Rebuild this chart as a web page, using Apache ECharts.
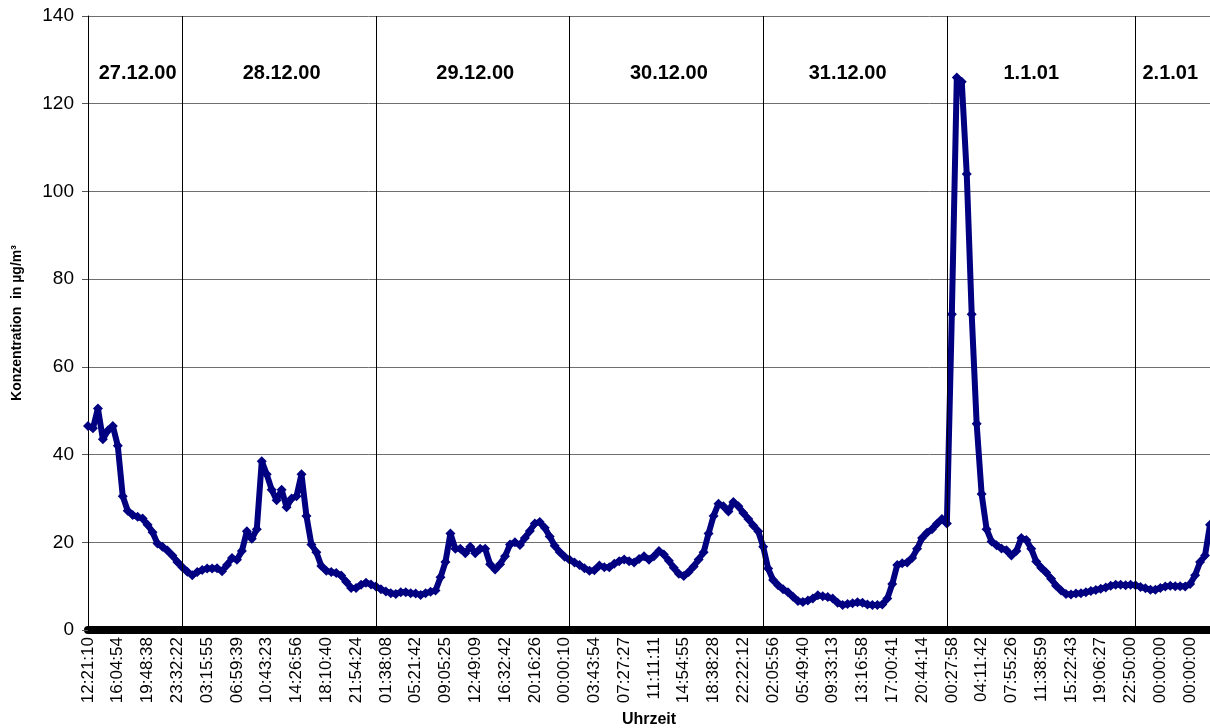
<!DOCTYPE html>
<html>
<head>
<meta charset="utf-8">
<script src="https://cdn.jsdelivr.net/npm/echarts@6/dist/echarts.min.js"></script>
<style>
  html, body { margin: 0; padding: 0; background: #fff; }
  #chart { width: 1210px; height: 728px; }
</style>
</head>
<body>
<div id="chart"></div>
<script>
// Uhrzeit labels, one every 6 readings
const uhrzeitLabels = [
  '12:21:10', '16:04:54', '19:48:38', '23:32:22', '03:15:55', '06:59:39', '10:43:23',
  '14:26:56', '18:10:40', '21:54:24', '01:38:08', '05:21:42', '09:05:25', '12:49:09',
  '16:32:42', '20:16:26', '00:00:10', '03:43:54', '07:27:27', '11:11:11', '14:54:55',
  '18:38:28', '22:22:12', '02:05:56', '05:49:40', '09:33:13', '13:16:58', '17:00:41',
  '20:44:14', '00:27:58', '04:11:42', '07:55:26', '11:38:59', '15:22:43', '19:06:27',
  '22:50:00', '00:00:00', '00:00:00'
];
const readingsPerLabel = 6;

// Konzentration in µg/m³, 27.12.00 12:21 to 2.1.01
const konzentration = [
  46.5, 46, 50.5, 43.5, 45.5, 46.5, 42, 30.5, 27.2, 26.2, 25.8, 25.4, 24, 22.3, 19.7, 19, 18.1, 17, 15.5, 14.3,
  13.3, 12.5, 13.2, 13.7, 14, 14, 14.1, 13.4, 14.8, 16.4, 16, 18, 22.5, 20.8, 23, 38.5, 35.5, 32, 29.6, 32,
  28, 30, 30.5, 35.5, 26, 19.5, 17.7, 14.6, 13.5, 13.2, 13, 12.4, 11, 9.6, 9.6, 10.3, 10.8, 10.4, 9.9, 9.3,
  8.8, 8.4, 8.2, 8.6, 8.6, 8.4, 8.3, 8, 8.4, 8.7, 9, 12, 15.5, 22, 18.5, 18.5, 17.5, 19, 17.5, 18.5,
  18.5, 15, 13.8, 15, 16.8, 19.5, 20, 19.4, 21, 22.6, 24.3, 24.6, 23.3, 21.3, 19.2, 17.8, 16.7, 16, 15.4, 14.8,
  14.1, 13.5, 13.6, 14.7, 14.3, 14.3, 15.1, 15.7, 16.1, 15.7, 15.4, 16.2, 16.8, 16, 16.8, 18, 17.2, 15.8, 14.2, 12.8,
  12.3, 13.2, 14.5, 16.1, 17.7, 22, 26, 28.8, 28.2, 27, 29.2, 28.2, 26.7, 25.3, 23.8, 22.5, 19, 14, 11.4, 10.2,
  9.3, 8.6, 7.6, 6.6, 6.4, 6.7, 7.2, 7.9, 7.7, 7.5, 7.2, 6.2, 5.7, 5.9, 6.1, 6.3, 6.2, 5.8, 5.7, 5.7,
  5.8, 7.2, 10.5, 14.8, 15.2, 15.4, 16.4, 18.5, 21, 22.2, 23, 24.2, 25.3, 24.3, 72, 126, 125, 104, 72, 47,
  31, 23, 20.2, 19.3, 18.6, 18.2, 17, 18, 21, 20.5, 18.5, 15.6, 14.2, 13.1, 11.7, 10.1, 9, 8.2, 8.1, 8.3,
  8.4, 8.6, 8.9, 9.1, 9.4, 9.7, 10.1, 10.3, 10.3, 10.2, 10.3, 10.2, 9.8, 9.5, 9.2, 9.2, 9.6, 9.9, 10.1, 10,
  10, 9.9, 10.5, 12.5, 15.5, 17, 24
];

// Dates and the reading index at which each day is labelled / starts
const tage = ['27.12.00', '28.12.00', '29.12.00', '30.12.00', '31.12.00', '1.1.01', '2.1.01'];
const tagesMitte = [10, 39, 78, 117, 153, 190, 218];
const tagesGrenzen = [19, 58, 97, 136, 173, 211];

const yTicks = { min: 0, max: 140, interval: 20 };

const kategorien = konzentration.map((_, i) =>
  i % readingsPerLabel === 0 ? (uhrzeitLabels[i / readingsPerLabel] || '') : ''
);

const chart = echarts.init(document.getElementById('chart'), null, { renderer: 'canvas' });

chart.setOption({
  animation: false,
  backgroundColor: '#ffffff',
  grid: { left: 88, right: 0, top: 16, bottom: 98, containLabel: false, outerBoundsMode: 'none' },
  xAxis: {
    type: 'category',
    data: kategorien,
    boundaryGap: false,
    name: 'Uhrzeit',
    nameLocation: 'middle',
    nameGap: 82,
    nameTextStyle: { fontFamily: 'Liberation Sans, Arial, sans-serif', fontWeight: 'bold', fontSize: 16, color: '#000' },
    axisLine: { show: true, onZero: false, lineStyle: { color: '#000', width: 8 } },
    axisTick: { show: false },
    axisLabel: {
      interval: (i) => i % readingsPerLabel === 0,
      rotate: 90,
      margin: 7,
      color: '#000',
      fontSize: 17,
      fontFamily: 'Liberation Sans Narrow, Arial Narrow, Liberation Sans, sans-serif'
    },
    splitLine: { show: false }
  },
  yAxis: {
    type: 'value',
    min: yTicks.min,
    max: yTicks.max,
    interval: yTicks.interval,
    name: 'Konzentration  in µg/m³',
    nameLocation: 'middle',
    nameGap: 64,
    nameTextStyle: { fontFamily: 'Liberation Sans, Arial, sans-serif', fontWeight: 'bold', fontSize: 14, color: '#000' },
    axisLine: { show: true, lineStyle: { color: '#000', width: 1 } },
    axisTick: { show: true, inside: false, length: 6, lineStyle: { color: '#555' } },
    axisLabel: { color: '#000', fontSize: 19, margin: 14, fontFamily: 'Liberation Sans, Arial, sans-serif' },
    splitLine: { show: true, lineStyle: { color: '#6e6e6e', width: 1 } }
  },
  series: [{
    type: 'line',
    data: konzentration,
    symbol: 'diamond',
    symbolSize: 10,
    showSymbol: true,
    showAllSymbol: true,
    color: '#000080',
    itemStyle: { color: '#000080' },
    lineStyle: { color: '#000080', width: 6, join: 'round', cap: 'round' },
    z: 3,
    markLine: {
      silent: true,
      symbol: ['none', 'none'],
      label: { show: false },
      lineStyle: { color: '#000', width: 1, type: 'solid' },
      data: tagesGrenzen.map((idx) => ({ xAxis: idx }))
    },
    markPoint: {
      silent: true,
      symbol: 'circle',
      symbolSize: 0,
      label: {
        show: true,
        position: 'inside',
        color: '#000',
        fontWeight: 'bold',
        fontSize: 20,
        fontFamily: 'Liberation Sans, Arial, sans-serif',
        formatter: (p) => p.name
      },
      data: tage.map((t, k) => ({ name: t, coord: [tagesMitte[k], 127] }))
    }
  }]
});
</script>
</body>
</html>
